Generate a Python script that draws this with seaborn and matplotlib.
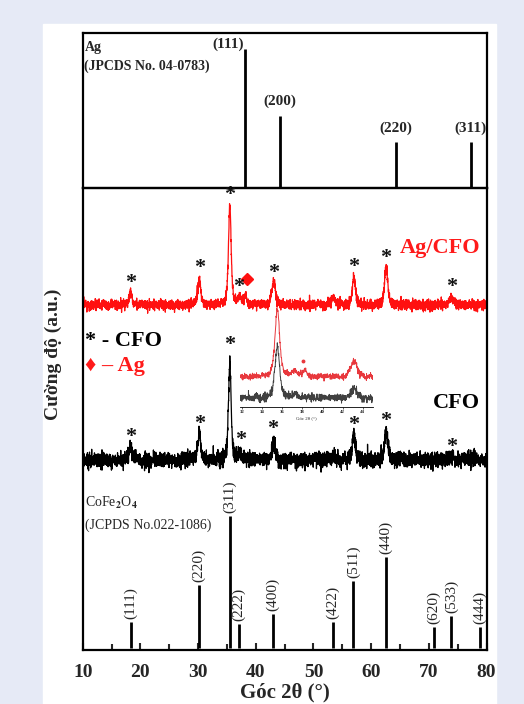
import numpy as np
import pandas as pd
import matplotlib
matplotlib.use("Agg")
import matplotlib.pyplot as plt
from matplotlib.patches import Rectangle
from matplotlib.ticker import MultipleLocator
import seaborn as sns

# Ag reference lines (JCPDS 04-0783), relative intensity in %
ag_pos = [38.1, 44.2, 64.3, 77.3]
ag_int = [100, 52, 33, 33]
ag_hkl = ["(111)", "(200)", "(220)", "(311)"]

# CoFe2O4 reference lines (JCPDS 022-1086)
cfo_pos = [18.3, 30.1, 35.5, 37.1, 43.0, 53.4, 56.9, 62.5, 70.9, 73.9, 78.8]
cfo_int = [20, 48, 100, 18, 26, 20, 51, 69, 16, 24, 16]
cfo_hkl = ["(111)", "(220)", "(311)", "(222)", "(400)", "(422)",
           "(511)", "(440)", "(620)", "(533)", "(444)"]

# measured peaks of Ag/CFO sample (position, height a.u., fwhm)
agcfo_pos = [18.3, 30.2, 35.5, 37.2, 38.2, 43.1, 53.5, 57.0, 62.6, 74.0]
agcfo_h = [12, 27, 100, 9, 10, 24, 7, 27, 39, 6]
agcfo_w = [0.6, 0.6, 0.55, 0.6, 0.5, 0.7, 0.8, 0.65, 0.65, 1.0]

# measured peaks of CFO sample
cfo_s_pos = [18.3, 30.2, 35.5, 37.2, 43.1, 53.5, 57.0, 62.6, 74.0]
cfo_s_h = [14, 27, 98, 7, 17, 5, 25, 29, 4]
cfo_s_w = [0.6, 0.6, 0.55, 0.6, 0.7, 0.8, 0.65, 0.65, 1.0]

# asterisk / diamond markers (position, height above pattern baseline)
agcfo_star_x = [18.3, 30.2, 35.5, 37.1, 43.1, 57.0, 62.6, 74.0]
agcfo_star_y = [22, 37, 110, 18, 32, 38, 47, 18]
ag_mark_x, ag_mark_y = 38.4, 26
cfo_star_x = [18.3, 30.2, 35.5, 37.3, 43.0, 56.9, 62.6, 74.0]
cfo_star_y = [23, 36, 115, 20, 31, 35, 39, 13]

x_ticks = [10, 20, 30, 40, 50, 60, 70, 80]
inset_ticks = [32, 34, 36, 38, 40, 42, 44]


def pattern(x, pos, h, w):
    y = np.zeros_like(x)
    for p, a, f in zip(pos, h, w):
        lor = 1 / (1 + ((x - p) / (f / 2)) ** 2)
        gau = np.exp(-4 * np.log(2) * ((x - p) / f) ** 2)
        y += a * (0.5 * lor + 0.5 * gau)
    return y


tt = np.arange(10, 80.001, 0.02)
rng = np.random.default_rng(3)
red = pattern(tt, agcfo_pos, agcfo_h, agcfo_w) + rng.normal(0, 2.5, tt.size)
blk = pattern(tt, cfo_s_pos, cfo_s_h, cfo_s_w) + rng.normal(0, 3.8, tt.size)
df = pd.DataFrame({"two_theta": tt, "agcfo": red, "cfo": blk})

sns.set_theme(style="white")
plt.rcParams["font.family"] = ["Liberation Serif", "DejaVu Sans"]
plt.rcParams["font.weight"] = "bold"
plt.rcParams["mathtext.fontset"] = "stix"

fig = plt.figure(figsize=(5.24, 7.04), dpi=100, facecolor="#e6eaf6")
fig.patches.append(Rectangle((43 / 524, 0), 453 / 524, 1 - 24 / 704,
                             transform=fig.transFigure, color="white", zorder=-5))

W, H = 524, 704
L, R = 82.7, 486.5
ax_top = fig.add_axes([L / W, 1 - 188 / H, (R - L) / W, 155 / H])
ax = fig.add_axes([L / W, 1 - 650 / H, (R - L) / W, 462 / H])

for a in (ax_top, ax):
    a.set_xlim(10, 80)
    a.set_facecolor("none")
    for s in a.spines.values():
        s.set_linewidth(1.6)
        s.set_color("black")

# --- top panel: Ag reference ---
ax_top.set_ylim(0, 155)
ax_top.vlines(ag_pos, 0, [v * 1.39 for v in ag_int], color="black", lw=2)
for p, v, lab in zip(ag_pos, ag_int, ag_hkl):
    if lab == "(111)":
        ax_top.text(p - 0.2, v * 1.39 + 5, lab, ha="right", va="center", fontsize=11)
    else:
        ax_top.text(p, v * 1.39 + 14, lab, ha="center", va="center", fontsize=11)
ax_top.text(10.3, 141, "Ag", ha="left", va="center", fontsize=10)
ax_top.text(10.3, 122, "(JPCDS No. 04-0783)", ha="left", va="center", fontsize=10)
ax_top.set_xticks([])
ax_top.set_yticks([])

# --- main panel ---
ax.set_ylim(0, 462)
red_off, blk_off = 345, 190
sns.lineplot(x=df["two_theta"], y=df["agcfo"] + red_off, ax=ax, color="#ff1010",
             lw=0.9, estimator=None, sort=False)
sns.lineplot(x=df["two_theta"], y=df["cfo"] + blk_off, ax=ax, color="black",
             lw=0.9, estimator=None, sort=False)

for sx, sy in zip(agcfo_star_x, agcfo_star_y):
    ax.text(sx, red_off + sy, "*", ha="center", va="center", fontsize=16, color="#111111")
for sx, sy in zip(cfo_star_x, cfo_star_y):
    ax.text(sx, blk_off + sy, "*", ha="center", va="center", fontsize=16, color="#111111")
ax.plot(ag_mark_x, red_off + ag_mark_y, marker="D", color="#ff1010", ms=6, ls="none")

ax.text(78.9, 402, "Ag/CFO", ha="right", va="center", fontsize=16, color="#ff1a1a")
ax.text(78.9, 247, "CFO", ha="right", va="center", fontsize=16, color="black")
ax.text(10.4, 309, "* - CFO", ha="left", va="center", fontsize=16, color="black")
ax.text(10.4, 284, "\u2666 \u2013 Ag", ha="left", va="center", fontsize=16, color="#ff1a1a")

# CoFe2O4 reference sticks
ax.vlines(cfo_pos, 2, [2 + v * 1.316 for v in cfo_int], color="black", lw=2)
for p, v, lab in zip(cfo_pos, cfo_int, cfo_hkl):
    ax.text(p, 2 + v * 1.316 + 3, lab, ha="center", va="bottom", rotation=90,
            fontsize=11, fontweight="normal")
ax.text(10.4, 147, "CoFe$_2$O$_4$", ha="left", va="center", fontsize=10, fontweight="normal")
ax.text(10.4, 125, "(JCPDS No.022-1086)", ha="left", va="center", fontsize=10,
        fontweight="normal")

ax.set_xticks(x_ticks)
ax.xaxis.set_minor_locator(MultipleLocator(5))
ax.set_yticks([])
ax.tick_params(axis="x", which="both", direction="in", width=1.5, labelsize=14,
               pad=10, bottom=True)
ax.tick_params(axis="x", which="major", length=5)
ax.tick_params(axis="x", which="minor", length=4)
for t in ax.get_xticklabels():
    t.set_fontweight("bold")
ax.set_xlabel("Góc 2θ (°)", fontsize=15, fontweight="bold", labelpad=1.5)
ax.set_ylabel("Cường độ (a.u.)", fontsize=14, fontweight="bold")
ax.yaxis.set_label_coords(-0.052, 0.64)

# --- inset (zoom 32-45 deg) ---
ins = fig.add_axes([240 / W, 1 - 407 / H, 133 / W, 107 / H])
win = df[(df["two_theta"] >= 31.8) & (df["two_theta"] <= 45)]
sns.lineplot(x=win["two_theta"], y=win["agcfo"] * 0.68 + 30, ax=ins, color="#e8383d",
             lw=0.7, estimator=None, sort=False)
sns.lineplot(x=win["two_theta"], y=win["cfo"] * 0.53 + 9, ax=ins, color="#404040",
             lw=0.7, estimator=None, sort=False)
ins.plot(38.1, 46, marker="o", color="#e8383d", ms=1.8, ls="none")
ins.set_xlim(31.8, 45)
ins.set_ylim(0, 107)
ins.set_facecolor("none")
for side in ("top", "left", "right"):
    ins.spines[side].set_visible(False)
ins.spines["bottom"].set_linewidth(0.6)
ins.spines["bottom"].set_color("black")
ins.set_xticks(inset_ticks)
ins.set_yticks([])
ins.tick_params(axis="x", direction="out", length=1.5, width=0.5, labelsize=3.5, pad=1,
                bottom=True)
ins.set_xlabel("Góc 2θ (°)", fontsize=3.5, labelpad=1)
ins.set_ylabel("")

fig.savefig("out.png", dpi=100, facecolor=fig.get_facecolor())
